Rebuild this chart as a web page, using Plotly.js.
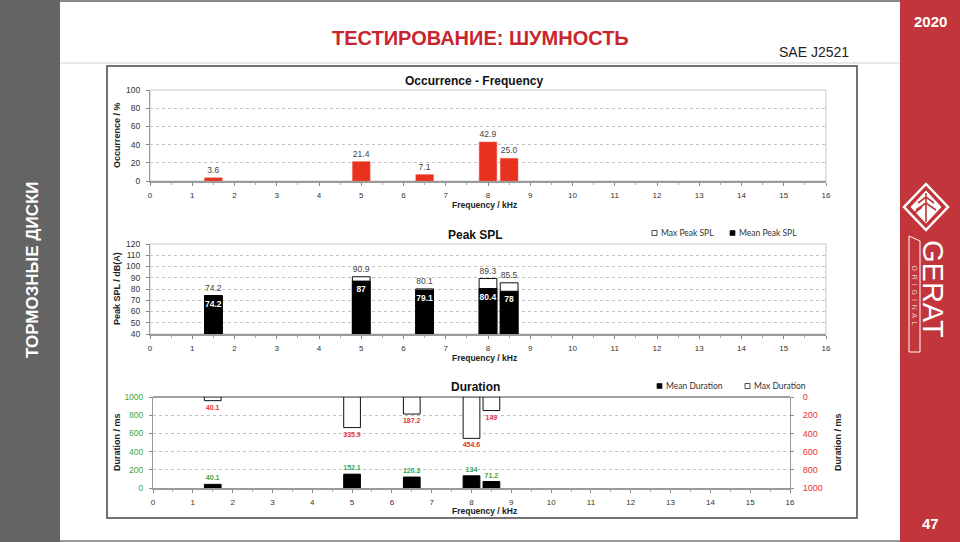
<!DOCTYPE html>
<html><head><meta charset="utf-8">
<script src="https://cdn.plot.ly/plotly-3.0.1.min.js"></script>
<style>html,body{margin:0;padding:0;background:#fff;}#chart{width:960px;height:542px;}</style>
</head><body><div id="chart"></div>
<script>
// ---- data ----
const freqKHz = [1.5, 5, 6.5, 8, 8.5];
const occurrence = [3.6, 21.4, 7.1, 42.9, 25.0];
const occurrenceLabels = ['3.6', '21.4', '7.1', '42.9', '25.0'];
const maxPeakSPL = [74.2, 90.9, 80.1, 89.3, 85.5];
const meanPeakSPL = [74.2, 87, 79.1, 80.4, 78];
const meanDuration = [40.1, 152.1, 120.3, 134, 71.2];
const maxDuration = [40.1, 335.9, 187.2, 454.6, 149];
const freqTicks = [0,1,2,3,4,5,6,7,8,9,10,11,12,13,14,15,16];
const legendSPL = ['Max Peak SPL', 'Mean Peak SPL'];
const legendDuration = ['Mean Duration', 'Max Duration'];

// ---- helpers (pixel -> paper) ----
const W = 960, H = 542;
const px = x => x / W;
const py = y => 1 - y / H;
const pt = (x, y) => px(x) + ',' + py(y);
const SANS = 'Liberation Sans, Arial, sans-serif';
const LEG = 'Lato, Open Sans, sans-serif';
const GREEN = '#3aa64a', RED = '#e8332b';
const BARW = 0.42;

const traces = [
  {type:'bar', x:freqKHz, y:occurrence, width:BARW, xaxis:'x', yaxis:'y',
   marker:{color:'#e8321e', line:{color:'#f07060', width:0.5}},
   text:occurrenceLabels, textposition:'outside', cliponaxis:false, constraintext:'none', textangle:0,
   textfont:{family:SANS, size:8.5, color:'#444'}, showlegend:false},
  {type:'bar', name:legendSPL[0], x:freqKHz, y:maxPeakSPL, width:BARW, xaxis:'x2', yaxis:'y2',
   marker:{color:'#ffffff', line:{color:'#111', width:1}},
   text:maxPeakSPL.map(String), textposition:'outside', cliponaxis:false, constraintext:'none', textangle:0,
   textfont:{family:SANS, size:8.5, color:'#444'}, showlegend:false},
  {type:'bar', name:legendSPL[1], x:freqKHz, y:meanPeakSPL, width:BARW, xaxis:'x2', yaxis:'y2',
   marker:{color:'#000000', line:{color:'#000', width:1}},
   text:meanPeakSPL.map(String), textposition:'inside', insidetextanchor:'end', constraintext:'none', textangle:0,
   textfont:{family:SANS, size:8.5, color:'#fff', weight:'bold'}, showlegend:false},
  {type:'bar', name:legendDuration[0], x:freqKHz, y:meanDuration, width:BARW, xaxis:'x3', yaxis:'y3',
   marker:{color:'#000000', line:{color:'#000', width:1}},
   text:meanDuration.map(String), textposition:'outside', cliponaxis:false, constraintext:'none', textangle:0,
   textfont:{family:SANS, size:7, color:GREEN, weight:'bold'}, showlegend:false},
  {type:'bar', name:legendDuration[1], x:freqKHz, y:maxDuration, width:BARW, xaxis:'x3', yaxis:'y4',
   marker:{color:'#ffffff', line:{color:'#111', width:1}},
   text:maxDuration.map(String), textposition:'outside', cliponaxis:false, constraintext:'none', textangle:0,
   textfont:{family:SANS, size:7, color:RED, weight:'bold'}, showlegend:false}
];

const xBase = {range:[0,16], tickvals:freqTicks, ticktext:freqTicks.map(String), ticks:'outside', ticklen:3,
  tickcolor:'#888', showline:true, linecolor:'#9a9a9a', linewidth:2, showgrid:false, zeroline:false,
  tickfont:{family:SANS, size:8, color:'#333'}, fixedrange:true, ticklabelstandoff:2,
  minor:{dtick:0.5, ticks:'outside', ticklen:2, tickcolor:'#aaa'}};
const yBase = {ticks:'outside', ticklen:3, tickcolor:'#888', showline:true, linecolor:'#9a9a9a', linewidth:1,
  showgrid:true, gridcolor:'#c2c2c2', griddash:'dot', gridwidth:1, zeroline:false, ticklabelstandoff:4,
  tickfont:{family:SANS, size:8.5, color:'#333'}, fixedrange:true};

function txt(x, y, text, font, extra) {
  return Object.assign({xref:'paper', yref:'paper', x:px(x), y:py(y), text:text, showarrow:false,
    xanchor:'center', yanchor:'middle', font:font}, extra || {});
}
function square(x, y, fill) {
  return {type:'rect', xref:'paper', yref:'paper', x0:px(x), x1:px(x+5), y0:py(y+2.5), y1:py(y-2.5),
    fillcolor:fill, line:{color:'#222', width:0.8}};
}

const layout = {
  width:W, height:H, margin:{l:0,r:0,t:0,b:0}, autosize:false,
  paper_bgcolor:'#ffffff', plot_bgcolor:'rgba(0,0,0,0)', barmode:'overlay', showlegend:false,
  font:{family:SANS, size:8, color:'#333'},
  xaxis: Object.assign({}, xBase, {domain:[px(150), px(826)], anchor:'y'}),
  yaxis: Object.assign({}, yBase, {domain:[py(181), py(90)], anchor:'x', range:[0,100], dtick:20}),
  xaxis2: Object.assign({}, xBase, {domain:[px(150), px(826)], anchor:'y2'}),
  yaxis2: Object.assign({}, yBase, {domain:[py(334), py(244)], anchor:'x2', range:[40,120], dtick:10}),
  xaxis3: Object.assign({}, xBase, {domain:[px(153), px(790)], anchor:'y3'}),
  yaxis3: Object.assign({}, yBase, {domain:[py(488), py(397)], anchor:'x3', range:[0,1000], dtick:200,
    tickfont:{family:SANS, size:8.5, color:GREEN}}),
  yaxis4: Object.assign({}, yBase, {overlaying:'y3', side:'right', anchor:'x3', range:[1000,0], dtick:200,
    showgrid:false, zeroline:true, zerolinecolor:'#a0a0a0', zerolinewidth:2.5, ticklabelstandoff:7,
    tickfont:{family:SANS, size:9, color:RED}}),
  shapes: [
    {type:'rect', xref:'paper', yref:'paper', x0:0, x1:px(60), y0:0, y1:1, fillcolor:'#646464', line:{width:0}, layer:'below'},
    {type:'rect', xref:'paper', yref:'paper', x0:px(900), x1:1, y0:0, y1:1, fillcolor:'#c1353b', line:{width:0}, layer:'below'},
    {type:'line', xref:'paper', yref:'paper', x0:px(60), x1:px(900), y0:py(1), y1:py(1), line:{color:'#8a8a8a', width:2}},
    {type:'line', xref:'paper', yref:'paper', x0:px(60), x1:px(900), y0:py(541), y1:py(541), line:{color:'#9a9a9a', width:2}},
    {type:'line', xref:'paper', yref:'paper', x0:px(60), x1:px(900), y0:py(63), y1:py(63), line:{color:'#d0d0d0', width:1}},
    {type:'rect', xref:'paper', yref:'paper', x0:px(107), x1:px(857), y0:py(518), y1:py(66), line:{color:'#444', width:1.5}, layer:'below'},
    {type:'rect', xref:'x domain', yref:'y domain', x0:0, x1:1, y0:0, y1:1, line:{color:'#c8c8c8', width:1}, layer:'below'},
    {type:'rect', xref:'x2 domain', yref:'y2 domain', x0:0, x1:1, y0:0, y1:1, line:{color:'#c8c8c8', width:1}, layer:'below'},
    // legend swatches
    square(652, 233, '#ffffff'), square(730, 233, '#000000'),
    square(657, 386, '#000000'), square(745, 386, '#ffffff'),
    // logo
    {type:'path', xref:'paper', yref:'paper', path:'M'+pt(926,184)+' L'+pt(948,207)+' L'+pt(926,230)+' L'+pt(904,207)+' Z', line:{color:'#fff', width:2.5}},
    {type:'path', xref:'paper', yref:'paper', path:'M'+pt(926,191)+' L'+pt(941,207)+' L'+pt(926,223)+' L'+pt(911,207)+' Z', fillcolor:'#fff', line:{color:'#fff', width:1}},
    {type:'path', xref:'paper', yref:'paper', path:'M'+pt(926,193)+' L'+pt(926,222)+' M'+pt(918,203)+' L'+pt(926,197)+' L'+pt(934,203)+' M'+pt(916,210)+' L'+pt(926,203)+' L'+pt(936,210)+' M'+pt(913,214)+' L'+pt(922,207), line:{color:'#c1353b', width:1.6}},
    {type:'path', xref:'paper', yref:'paper', path:'M'+pt(909,236)+' L'+pt(920,241)+' L'+pt(920,352)+' L'+pt(909,352)+' Z', line:{color:'#fff', width:1}}
  ],
  annotations: [
    txt(480, 38, 'ТЕСТИРОВАНИЕ: ШУМНОСТЬ', {family:SANS, size:20, color:'#c8262e', weight:'bold'}),
    txt(814, 52, 'SAE J2521', {family:SANS, size:14, color:'#222'}),
    txt(930, 21, '2020', {family:SANS, size:15, color:'#fff', weight:'bold'}),
    txt(930, 523, '47', {family:SANS, size:15, color:'#fff', weight:'bold'}),
    txt(32, 270, 'ТОРМОЗНЫЕ ДИСКИ', {family:SANS, size:17, color:'#fff', weight:'bold'}, {textangle:-90}),
    txt(933, 289, 'GERAT', {family:SANS, size:29, color:'#fff'}, {textangle:90}),
    txt(914.5, 295, 'O  R  I  G  I  N  A  L', {family:SANS, size:7, color:'#f2d0d0'}, {textangle:90}),
    // chart titles
    txt(474, 81, 'Occurrence - Frequency', {family:SANS, size:12, color:'#111', weight:'bold'}),
    txt(475, 235, 'Peak SPL', {family:SANS, size:12, color:'#111', weight:'bold'}),
    txt(475, 387, 'Duration', {family:SANS, size:12, color:'#111', weight:'bold'}),
    // legends
    txt(659, 233, legendSPL[0], {family:LEG, size:8.5, color:'#333'}, {xanchor:'left'}),
    txt(737, 233, legendSPL[1], {family:LEG, size:8.5, color:'#333'}, {xanchor:'left'}),
    txt(664, 386, legendDuration[0], {family:LEG, size:8.5, color:'#333'}, {xanchor:'left'}),
    txt(752, 386, legendDuration[1], {family:LEG, size:8.5, color:'#333'}, {xanchor:'left'}),
    // axis titles
    txt(484, 205, 'Frequency / kHz', {family:SANS, size:8.5, color:'#222', weight:'bold'}),
    txt(484, 357.5, 'Frequency / kHz', {family:SANS, size:8.5, color:'#222', weight:'bold'}),
    txt(484, 511, 'Frequency / kHz', {family:SANS, size:8.5, color:'#222', weight:'bold'}),
    txt(117, 135, 'Occurrence / %', {family:SANS, size:9, color:'#222', weight:'bold'}, {textangle:-90}),
    txt(117, 289, 'Peak SPL / dB(A)', {family:SANS, size:9, color:'#222', weight:'bold'}, {textangle:-90}),
    txt(117, 442, 'Duration / ms', {family:SANS, size:9, color:'#222', weight:'bold'}, {textangle:-90}),
    txt(838, 442, 'Duration / ms', {family:SANS, size:9, color:'#222', weight:'bold'}, {textangle:-90})
  ]
};

Plotly.newPlot('chart', traces, layout, {displayModeBar:false, staticPlot:true});
</script></body></html>
